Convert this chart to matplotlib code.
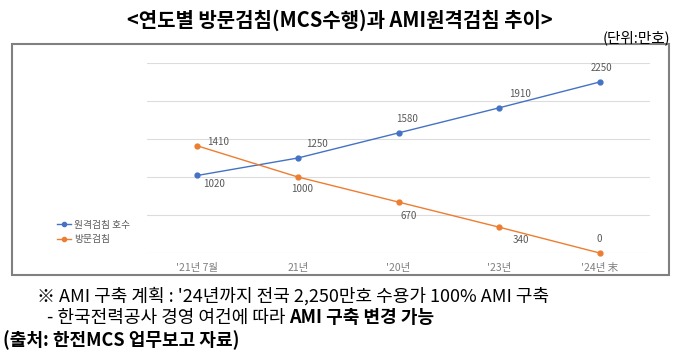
import matplotlib.pyplot as plt
from matplotlib.patches import Rectangle
from matplotlib.lines import Line2D

plt.rcParams['font.family'] = ['Noto Sans CJK KR', 'DejaVu Sans']

# 데이터 (단위: 만호)
categories = ["'21년 7월", "21년", "'20년", "'23년", "'24년 末"]
remote = [1020, 1250, 1580, 1910, 2250]   # 원격검침 호수
visit = [1410, 1000, 670, 340, 0]          # 방문검침

blue = '#4472C4'
orange = '#ED7D31'
grey_txt = '#595959'

W, H = 680, 357
fig = plt.figure(figsize=(W / 100, H / 100), dpi=100)
ax = fig.add_axes([147 / W, 1 - 253 / H, 503 / W, 190 / H])

x = list(range(len(categories)))
ax.plot(x, remote, color=blue, lw=1, marker='o', ms=3.5, clip_on=False)
ax.plot(x, visit, color=orange, lw=1, marker='o', ms=3.5, clip_on=False)

ax.set_xlim(-0.5, len(categories) - 0.5)
ax.set_ylim(0, 2500)
ax.set_yticks(range(0, 2501, 500))
ax.set_yticklabels([])
ax.yaxis.grid(True, color='#dcdcdc', lw=0.8)
ax.set_axisbelow(True)
ax.tick_params(length=0)
ax.set_xticks(x)
ax.set_xticklabels(categories, fontsize=7.5, color='#7f7f7f')
ax.tick_params(axis='x', pad=7)
for s in ax.spines.values():
    s.set_visible(False)

# 데이터 레이블 (원본처럼 점마다 조금씩 다른 위치)
remote_off = [(12, -6), (14, 10), (6, 10), (15, 10), (1, 10)]
visit_off = [(15, 3), (3, -9), (7, -10), (16, -9), (0, 10)]
for i, v in enumerate(remote):
    ax.annotate(str(v), (i, v), xytext=remote_off[i], textcoords='offset points',
                ha='center', va='center', fontsize=7, color=grey_txt)
for i, v in enumerate(visit):
    ax.annotate(str(v), (i, v), xytext=visit_off[i], textcoords='offset points',
                ha='center', va='center', fontsize=7, color=grey_txt)

# 범례
handles = [Line2D([], [], color=blue, lw=1, marker='o', ms=3),
           Line2D([], [], color=orange, lw=1, marker='o', ms=3)]
fig.legend(handles, ['원격검침 호수', '방문검침'], loc='center left',
           bbox_to_anchor=(48 / W, 1 - 232 / H), frameon=False, fontsize=7,
           handlelength=1.5, handletextpad=0.3, labelspacing=0.5,
           labelcolor=grey_txt)

# 차트 테두리
fig.patches.append(Rectangle((12 / W, 1 - 275 / H), 657 / W, 231 / H,
                             transform=fig.transFigure, fill=False,
                             edgecolor='#808080', lw=1.5))

fig.text(0.5, 1 - 20 / H, '<연도별 방문검침(MCS수행)과 AMI원격검침 추이>',
         ha='center', va='center', fontsize=14.4, fontweight='bold')
fig.text(670 / W, 1 - 38 / H, '(단위:만호)', ha='right', va='center', fontsize=10.5)

fig.text(37 / W, 1 - 296 / H,
         "※ AMI 구축 계획 : '24년까지 전국 2,250만호 수용가 100% AMI 구축",
         ha='left', va='center', fontsize=13)
t1 = fig.text(47 / W, 1 - 318 / H, '- 한국전력공사 경영 여건에 따라 ',
              ha='left', va='center', fontsize=13)
ax.annotate('AMI 구축 변경 가능', xy=(1, 0), xycoords=t1, ha='left', va='bottom',
            fontsize=13, fontweight='bold', annotation_clip=False)
fig.text(3 / W, 1 - 340 / H, '(출처: 한전MCS 업무보고 자료)',
         ha='left', va='center', fontsize=13, fontweight='bold')

fig.savefig('out.png', dpi=100)
